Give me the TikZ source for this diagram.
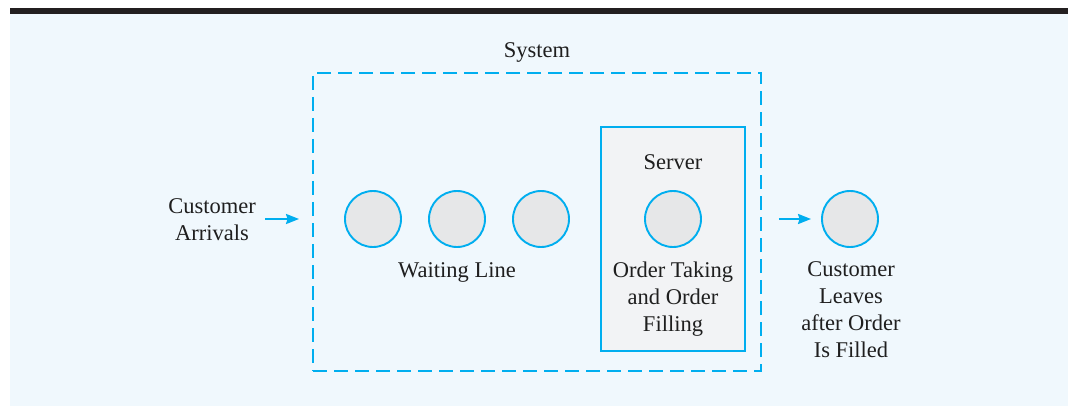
\documentclass[tikz,border=0pt]{standalone}
\usepackage{fontspec}
\setmainfont{Liberation Serif}
\usepackage{tikz}
\usetikzlibrary{arrows.meta, positioning, calc}

\begin{document}
\begin{tikzpicture}[
    x=1pt, y=-1pt,
    every node/.style={font=\fontsize{22.5}{27}\selectfont, align=center, text=black!88},
    sysbox/.style={
      rectangle, draw=qCyan, dash pattern=on 14pt off 7pt,
      line width=1.9pt, minimum width=448pt, minimum height=298pt
    },
    serverbox/.style={
      rectangle, draw=qCyan, fill=serverGray, line width=1.9pt,
      minimum width=144pt, minimum height=224pt
    },
    customer/.style={
      circle, draw=qCyan, fill=custGray, line width=1.9pt,
      minimum size=56pt, inner sep=0pt
    },
    arr/.style={-{Stealth[length=13pt, width=10pt, inset=1.5pt]}, draw=qCyan, line width=1.9pt}
  ]
    \definecolor{qCyan}{RGB}{0,174,239}
    \definecolor{bgBlue}{RGB}{240,248,253}
    \definecolor{serverGray}{RGB}{242,243,245}
    \definecolor{custGray}{RGB}{230,231,232}
    \definecolor{barBlack}{RGB}{35,31,32}

    \useasboundingbox (0,0) rectangle (1068,406);

    % background and top rule
    \fill[bgBlue] (10,14) rectangle (1068,406);
    \fill[barBlack] (10,8) rectangle (1068,14);

    % system and server
    \node[sysbox] (system) at (537,222) {};
    \node (systemlbl) at (537,52) {System};
    \node[serverbox] (server) at (673,239) {};
    \node (serverlbl) at (673,162) {Server};

    % customers
    \node[customer] (c1) at (373,219) {};
    \node[customer] (c2) at (457,219) {};
    \node[customer] (c3) at (541,219) {};
    \node[customer] (cs) at (673,219) {};
    \node[customer] (cout) at (850,219) {};

    \node (arrivals) at (212,220) {Customer\\Arrivals};
    \node (waiting) at (457,272) {Waiting Line};
    \node[anchor=north] (order) at (673,258) {Order Taking\\and Order\\Filling};
    \node[anchor=north] (leaves) at (851,258) {Customer\\Leaves\\after Order\\Is Filled};

    \draw[arr, shorten <=6pt, shorten >=13pt] (arrivals.east |- c1) -- (system.west |- c1);
    \draw[arr, shorten <=17pt, shorten >=10pt] (system.east |- cout) -- (cout.west);
  \end{tikzpicture}
\end{document}
